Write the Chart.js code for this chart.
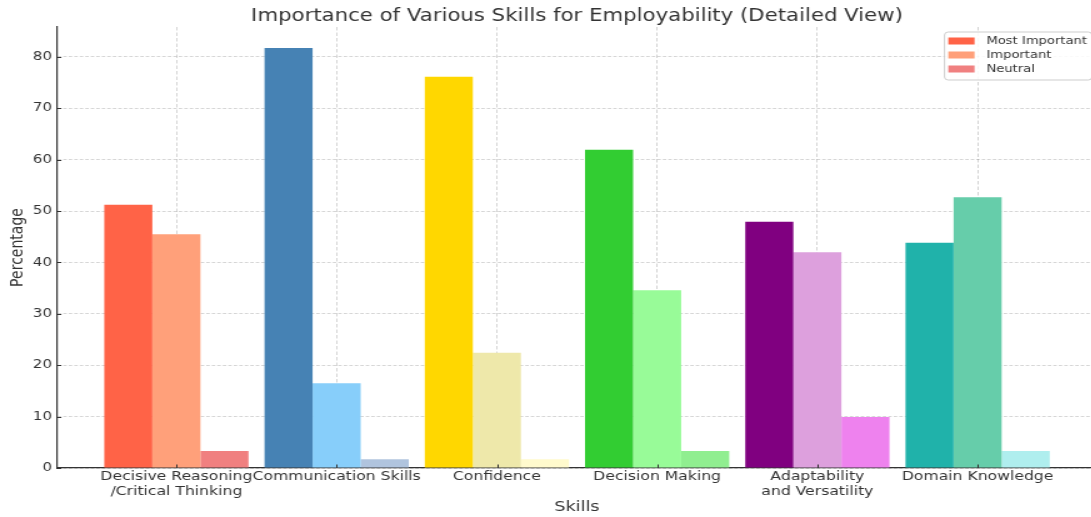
<!DOCTYPE html>
<html>
<head>
<meta charset="utf-8">
<script src="https://cdn.jsdelivr.net/npm/chart.js@4.4.0/dist/chart.umd.min.js"></script>
<style>
  html, body { margin: 0; padding: 0; background: #fff; overflow: hidden; }
  /* the reference is stretched sideways, so the canvas is too */
  #wrap { width: 880px; height: 517px; transform: scaleX(1.25); transform-origin: 0 0; }
</style>
</head>
<body>
<div id="wrap"><canvas id="skillsChart" width="880" height="517"></canvas></div>
<script>
// Data
const categories = [
  ['Decisive Reasoning', '/Critical Thinking'],
  'Communication Skills',
  'Confidence',
  'Decision Making',
  ['Adaptability', 'and Versatility'],
  'Domain Knowledge'
];
const seriesNames = ['Most Important', 'Important', 'Neutral'];
const mostImportant = [51.2, 81.7, 76.1, 61.9, 47.9, 43.8];
const important = [45.5, 16.5, 22.4, 34.6, 42.0, 52.7];
const neutral = [3.3, 1.7, 1.7, 3.3, 9.9, 3.3];

// one colour per bar, per skill
const mostColors = ['#FF6347', '#4682B4', '#FFD700', '#32CD32', '#800080', '#20B2AA'];
const importantColors = ['#FFA07A', '#87CEFA', '#EEE8AA', '#98FB98', '#DDA0DD', '#66CDAA'];
const neutralColors = ['#F08080', '#B0C4DE', '#FFFACD', '#90EE90', '#EE82EE', '#AFEEEE'];

const FONT = '"DejaVu Sans", sans-serif';

const toPoints = arr => arr.map((v, i) => ({ x: i, y: v }));

const makeSet = (label, values, colors) => ({
  label,
  data: toPoints(values),
  backgroundColor: colors,
  borderWidth: 0,
  categoryPercentage: 0.9,
  barPercentage: 1.0
});

// Legend box drawn inside the plot, top right (like matplotlib)
const boxLegend = {
  id: 'boxLegend',
  afterDraw(chart) {
    const { ctx, chartArea } = chart;
    const sets = chart.data.datasets;
    ctx.save();
    ctx.font = '10.5px ' + FONT;
    const textW = Math.max(...sets.map(d => ctx.measureText(d.label).width));
    const rowH = 14;
    const w = 3 + 21 + 9.5 + textW + 4;
    const h = sets.length * rowH + 6;
    const x = chartArea.right - 4 - w;
    const y = chartArea.top + 5;

    ctx.beginPath();
    ctx.roundRect(x, y, w, h, 3);
    ctx.fillStyle = 'rgba(255, 255, 255, 0.85)';
    ctx.fill();
    ctx.strokeStyle = 'rgba(200, 200, 200, 0.9)';
    ctx.lineWidth = 1;
    ctx.stroke();

    ctx.textBaseline = 'middle';
    sets.forEach((d, i) => {
      const cy = y + 9 + i * rowH;
      ctx.fillStyle = d.backgroundColor[0];
      ctx.fillRect(x + 3, cy - 3.5, 21, 7);
      ctx.fillStyle = '#333';
      ctx.fillText(d.label, x + 3 + 21 + 9.5, cy + 0.5);
    });
    ctx.restore();
  }
};

// Small inward tick marks
const innerTicks = {
  id: 'innerTicks',
  afterDraw(chart) {
    const { ctx, chartArea, scales } = chart;
    ctx.save();
    ctx.strokeStyle = '#333';
    ctx.lineWidth = 1;
    ctx.beginPath();
    scales.y.ticks.forEach(t => {
      const py = Math.round(scales.y.getPixelForValue(t.value)) + 0.5;
      ctx.moveTo(chartArea.left, py);
      ctx.lineTo(chartArea.left + 3.5, py);
    });
    scales.x.ticks.forEach(t => {
      const px = Math.round(scales.x.getPixelForValue(t.value)) + 0.5;
      ctx.moveTo(px, chartArea.bottom);
      ctx.lineTo(px, chartArea.bottom - 3.5);
    });
    ctx.stroke();
    ctx.restore();
  }
};

const chart = new Chart(document.getElementById('skillsChart'), {
  type: 'bar',
  data: {
    datasets: [
      makeSet(seriesNames[0], mostImportant, mostColors),
      makeSet(seriesNames[1], important, importantColors),
      makeSet(seriesNames[2], neutral, neutralColors)
    ]
  },
  options: {
    responsive: false,
    animation: false,
    layout: { padding: { left: 0, right: 2.4, top: 0, bottom: 0 } },
    plugins: {
      legend: { display: false },
      tooltip: { enabled: false },
      title: {
        display: true,
        fullSize: false,
        text: 'Importance of Various Skills for Employability (Detailed View)',
        color: '#333',
        font: { family: FONT, size: 17, weight: 'normal' },
        padding: { top: 6, bottom: 0.6 }
      }
    },
    scales: {
      x: {
        type: 'linear',
        min: -0.745,
        max: 5.745,
        offset: false,
        z: 1,
        afterBuildTicks: axis => {
          axis.ticks = categories.map((c, i) => ({ value: i }));
        },
        afterFit: axis => { axis.height = 49; },
        ticks: {
          autoSkip: false,
          maxRotation: 0,
          minRotation: 0,
          padding: 2,
          color: '#333',
          font: { family: FONT, size: 12.5, lineHeight: 1.15 },
          callback: (value, index) => categories[index]
        },
        grid: {
          offset: false,
          drawTicks: false,
          color: 'rgba(0, 0, 0, 0.17)',
          lineWidth: 1
        },
        border: { display: true, color: '#333', width: 1.3, dash: [3.5, 2] },
        title: {
          display: true,
          text: 'Skills',
          color: '#333',
          font: { family: FONT, size: 14 },
          padding: { top: 0, bottom: 1.6 }
        }
      },
      y: {
        min: 0,
        max: 85.8,
        z: 1,
        afterFit: axis => { axis.width = 45.6; },
        ticks: {
          stepSize: 10,
          includeBounds: false,
          padding: 4,
          color: '#333',
          font: { family: FONT, size: 12 }
        },
        grid: {
          drawTicks: false,
          color: 'rgba(0, 0, 0, 0.16)',
          lineWidth: 1
        },
        border: { display: true, color: '#333', width: 1.2, dash: [2.8, 1.6] },
        title: {
          display: true,
          text: 'Percentage',
          color: '#333',
          font: { family: FONT, size: 14 },
          padding: { top: 6, bottom: 0 }
        }
      }
    }
  },
  plugins: [boxLegend, innerTicks]
});
</script>
</body>
</html>
